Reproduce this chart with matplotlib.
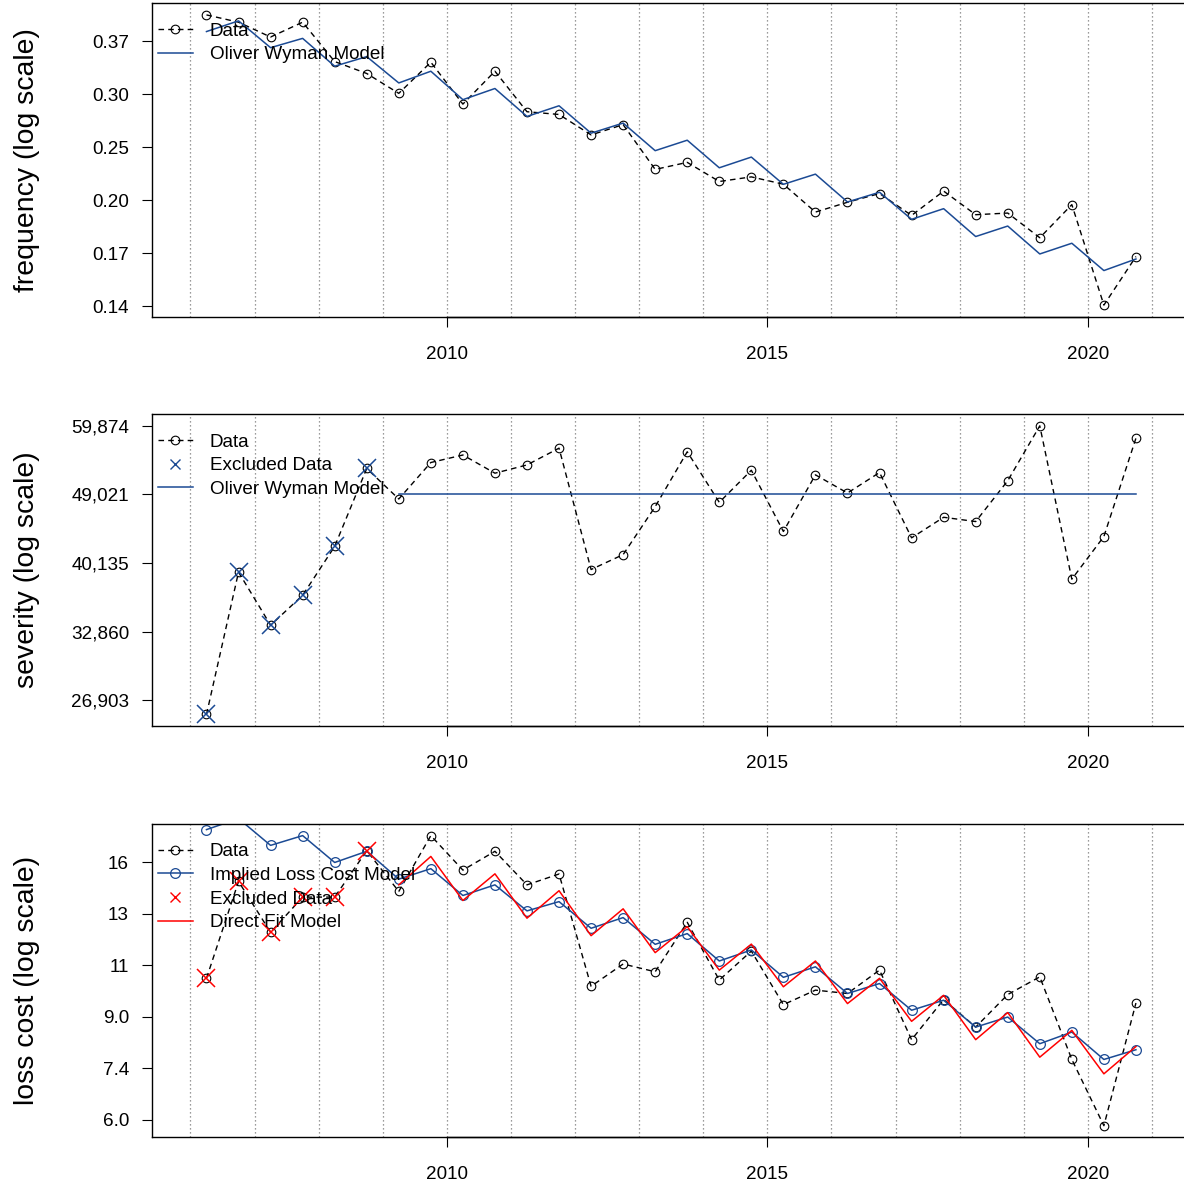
import matplotlib
matplotlib.use("Agg")
import numpy as np
import matplotlib.pyplot as plt
from matplotlib.lines import Line2D

plt.rcParams['font.family'] = ['Liberation Sans', 'DejaVu Sans']

# ---------------------------------------------------------------- data
period = [2006.25, 2006.75, 2007.25, 2007.75, 2008.25, 2008.75,
          2009.25, 2009.75, 2010.25, 2010.75, 2011.25, 2011.75,
          2012.25, 2012.75, 2013.25, 2013.75, 2014.25, 2014.75,
          2015.25, 2015.75, 2016.25, 2016.75, 2017.25, 2017.75,
          2018.25, 2018.75, 2019.25, 2019.75, 2020.25, 2020.75]

freq_data = [0.406, 0.395, 0.3735, 0.395, 0.3405, 0.3255,
             0.302, 0.3397, 0.290, 0.3283, 0.2818, 0.2789,
             0.2582, 0.2684, 0.2267, 0.2328, 0.2166, 0.2204,
             0.2144, 0.193, 0.2003, 0.207, 0.1906, 0.2089,
             0.1911, 0.1923, 0.1752, 0.1985, 0.1359, 0.1632]
freq_model = [0.3813, 0.397, 0.3588, 0.3716, 0.3346, 0.3469,
              0.3141, 0.3283, 0.2949, 0.3076, 0.2768, 0.2882,
              0.2599, 0.2700, 0.2433, 0.2531, 0.2281, 0.2375,
              0.2143, 0.2227, 0.2005, 0.2080, 0.1878, 0.1955,
              0.1760, 0.1831, 0.1648, 0.1716, 0.1548, 0.1617]

sev_data = [25808, 39080, 33480, 36530, 42130, 52870,
            48370, 53800, 54990, 52150, 53420, 56100,
            39380, 41130, 47300, 55510, 47900, 52600,
            44000, 51900, 49220, 52250, 43190, 45860,
            45290, 51020, 59870, 38290, 43360, 57750]
sev_model_level = 49100
sev_model_start = 2009.25

lc_data = [10.48, 15.27, 12.53, 14.37, 14.37, 17.21,
           14.69, 18.25, 15.96, 17.17, 15.07, 15.72,
           10.16, 11.08, 10.75, 13.03, 10.41, 11.65,
           9.46, 10.01, 9.88, 10.82, 8.257, 9.65,
           8.67, 9.84, 10.54, 7.645, 5.91, 9.52]
lc_implied = [18.68, 19.50, 17.57, 18.25, 16.44, 17.17,
              15.41, 16.05, 14.46, 15.07, 13.62, 14.12,
              12.73, 13.27, 11.96, 12.47, 11.21, 11.70,
              10.52, 10.96, 9.88, 10.27, 9.257, 9.625,
              8.67, 9.016, 8.128, 8.504, 7.645, 7.94]
lc_direct = [15.07, 16.83, 14.18, 15.73, 13.24, 14.73,
             12.37, 13.73, 11.58, 12.81, 10.82, 11.97,
             10.14, 11.21, 9.50, 10.48, 8.867, 9.81,
             8.257, 9.174, 7.714, 8.56, 7.23, 8.04]
n_excluded = 6  # first six half-years left out of the fits

year_grid = list(range(2006, 2022))
x_tick_years = [2010, 2015, 2020]

freq_ticks_ln = [-2.0, -1.8, -1.6, -1.4, -1.2, -1.0]
freq_tick_labels = ["0.14", "0.17", "0.20", "0.25", "0.30", "0.37"]
sev_ticks_ln = [10.2, 10.4, 10.6, 10.8, 11.0]
sev_tick_labels = ["26,903", "32,860", "40,135", "49,021", "59,874"]
lc_ticks_ln = [1.8, 2.0, 2.2, 2.4, 2.6, 2.8]
lc_tick_labels = ["6.0", "7.4", "9.0", "11", "13", "16"]

# ---------------------------------------------------------------- style
BLUE = "#1B4A94"
RED = "#FF0000"
FS = 13.6
LAB_FS = 20.4
W, H = 1184, 1185
DPI = 100

x = np.array(period)
fig = plt.figure(figsize=(W / DPI, H / DPI), dpi=DPI)

x_lo, x_hi = min(year_grid), max(year_grid)
x_pad = 0.04 * (x_hi - x_lo)
xlim = (x_lo - x_pad, x_hi + x_pad)
left_px = 152
px_per_year = 64.1
right_px = left_px + (xlim[1] - xlim[0]) * px_per_year
ax_w_px = right_px - left_px


def make_axes(top_px, bottom_px):
    ax = fig.add_axes([left_px / W, 1 - bottom_px / H,
                       ax_w_px / W, (bottom_px - top_px) / H])
    ax.set_yscale('log')
    ax.set_xlim(*xlim)
    for yr in year_grid:
        ax.axvline(yr, color="#7a7a7a", lw=0.9, ls=(0, (1, 2.2)), zorder=0)
    for s in ax.spines.values():
        s.set_linewidth(1.0)
    # axis line between the outer labelled ticks
    ax.plot([x_tick_years[0], x_tick_years[-1]], [0, 0], color='black',
            lw=1.0, transform=ax.get_xaxis_transform(), clip_on=False,
            zorder=5)
    ax.set_xticks(x_tick_years)
    ax.set_xticklabels([str(v) for v in x_tick_years], fontsize=FS)
    ax.tick_params(axis='both', length=7.5, width=0.8, direction='out')
    ax.tick_params(axis='x', pad=13.5)
    ax.tick_params(axis='y', pad=9)
    ax.minorticks_off()
    return ax, bottom_px - top_px


def set_log_ylim(ax, values, ticks_ln, labels):
    lv = np.log(values)
    pad = 0.04 * (lv.max() - lv.min())
    ax.set_ylim(np.exp(lv.min() - pad), np.exp(lv.max() + pad))
    ax.set_yticks(np.exp(ticks_ln))
    ax.set_yticklabels(labels, fontsize=FS)
    ax.yaxis.set_minor_locator(matplotlib.ticker.NullLocator())


def add_legend(ax, h_px, handles, labels):
    ax.legend(handles, labels, loc='upper left',
              bbox_to_anchor=(0, 1 - 13.5 / h_px),
              frameon=False, fontsize=FS, handlelength=1.85,
              handletextpad=0.9, borderaxespad=0.0, borderpad=0.3,
              labelspacing=0.34)


data_kw = dict(color='black', ls=(0, (4, 3)), lw=1.0, marker='o',
               mfc='none', mec='black', ms=6.2, mew=0.8)

# ---------------------------------------------------------------- frequency
ax1, h1 = make_axes(3.3, 316.7)
ax1.plot(x, freq_data, **data_kw)
ax1.plot(x, freq_model, color=BLUE, lw=1.1)
set_log_ylim(ax1, freq_data, freq_ticks_ln, freq_tick_labels)
ax1.set_ylabel("frequency (log scale)", fontsize=LAB_FS)
add_legend(ax1, h1,
           [Line2D([], [], **data_kw),
            Line2D([], [], color=BLUE, lw=1.1)],
           ["Data", "Oliver Wyman Model"])

# ---------------------------------------------------------------- severity
ax2, h2 = make_axes(414.3, 726)
ax2.plot(x, sev_data, **data_kw)
ax2.plot(x[:n_excluded], sev_data[:n_excluded], ls='none', marker='x',
         color=BLUE, ms=13.5, mew=1.1)
sev_x = x[x >= sev_model_start]
ax2.plot(sev_x, [sev_model_level] * len(sev_x), color=BLUE, lw=1.1)
set_log_ylim(ax2, sev_data, sev_ticks_ln, sev_tick_labels)
ax2.set_ylabel("severity (log scale)", fontsize=LAB_FS)
add_legend(ax2, h2,
           [Line2D([], [], **data_kw),
            Line2D([], [], ls='none', marker='x', color=BLUE, ms=7.5, mew=1.0),
            Line2D([], [], color=BLUE, lw=1.1)],
           ["Data", "Excluded Data", "Oliver Wyman Model"])

# ---------------------------------------------------------------- loss cost
ax3, h3 = make_axes(824, 1137.3)
ax3.plot(x, lc_data, **data_kw)
ax3.plot(x, lc_implied, color=BLUE, lw=1.1, marker='o', mfc='none',
         mec=BLUE, ms=7.0, mew=0.9)
ax3.plot(x[:n_excluded], lc_data[:n_excluded], ls='none', marker='x',
         color=RED, ms=13.5, mew=1.1)
ax3.plot(x[n_excluded:], lc_direct, color=RED, lw=1.1)
set_log_ylim(ax3, lc_data, lc_ticks_ln, lc_tick_labels)
ax3.set_ylabel("loss cost (log scale)", fontsize=LAB_FS)
add_legend(ax3, h3,
           [Line2D([], [], **data_kw),
            Line2D([], [], color=BLUE, lw=1.1, marker='o', mfc='none',
                   mec=BLUE, ms=7.0, mew=0.9),
            Line2D([], [], ls='none', marker='x', color=RED, ms=7.5, mew=1.0),
            Line2D([], [], color=RED, lw=1.1)],
           ["Data", "Implied Loss Cost Model", "Excluded Data",
            "Direct Fit Model"])

for ax in (ax1, ax2, ax3):
    ax.yaxis.set_label_coords(-(left_px - 40) / ax_w_px, 0.5)

fig.savefig("out.png", dpi=DPI)
